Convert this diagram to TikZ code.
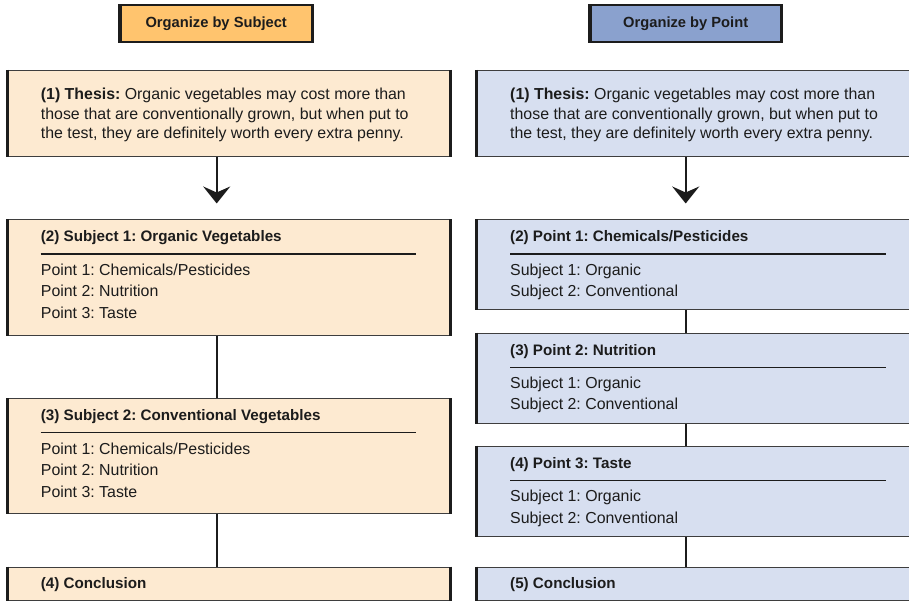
\documentclass[tikz,border=0pt]{standalone}
\usepackage{fontspec}
\setmainfont{Liberation Sans}
\usetikzlibrary{arrows.meta}
\frenchspacing

\definecolor{hdrA}{RGB}{255,196,110}
\definecolor{fillA}{RGB}{253,234,209}
\definecolor{hdrB}{RGB}{138,161,206}
\definecolor{fillB}{RGB}{215,223,240}
\definecolor{ink}{RGB}{28,28,28}

\tikzset{
  panel/.style={draw=ink!85, line width=1.1bp, inner sep=0pt, anchor=north west},
  hdr/.style={draw=ink, line width=2bp, inner sep=0pt,
    font=\fontsize{14.7bp}{17bp}\selectfont\bfseries, text=ink},
  body/.style={inner sep=0pt, anchor=base west, text=ink,
    font=\fontsize{15.9bp}{19bp}\selectfont},
  ttl/.style={body, font=\fontsize{15.2bp}{19bp}\selectfont\bfseries},
  rule/.style={draw=ink, line width=1.1bp},
  link/.style={draw=ink, line width=2bp},
  sideline/.style={draw=ink, line width=2.6bp},
}
% thick vertical edges of a panel
\newcommand\panelsides[1]{%
  \draw[sideline] (#1.north west) -- (#1.south west);
  \draw[sideline] (#1.north east) -- (#1.south east);}

\begin{document}
\begin{tikzpicture}[x=1bp,y=-1bp]
\clip (0,0) rectangle (909,601);

% ---------------- left column: organize by subject ----------------
\node[hdr, fill=hdrA, minimum width=191bp, minimum height=36.4bp] (hA) at (216.2,23.5) {Organize by Subject};
\panelsides{hA}

\node[panel, fill=fillA, minimum width=442bp, minimum height=86bp] (thA) at (7.3,70) {};
\panelsides{thA}
\node[body] (thA1) at (40.7,100) {\textbf{(1) Thesis:} Organic vegetables may cost more than};
\node[body] (thA2) at (40.7,119.5) {those that are conventionally grown, but when put to};
\node[body] (thA3) at (40.7,139) {the test, they are definitely worth every extra penny.};

\node[panel, fill=fillA, minimum width=442bp, minimum height=115.7bp] (sA1) at (7.3,219.3) {};
\panelsides{sA1}
\node[ttl] (sA1t) at (40.7,242) {(2) Subject 1: Organic Vegetables};
\draw[rule] (40.7,254) coordinate (sA1r1) -- (416,254) coordinate (sA1r2);
\node[body] (sA1a) at (40.7,275) {Point 1: Chemicals/Pesticides};
\node[body] (sA1b) at (40.7,296.7) {Point 2: Nutrition};
\node[body] (sA1c) at (40.7,318.3) {Point 3: Taste};

\node[panel, fill=fillA, minimum width=442bp, minimum height=115bp] (sA2) at (7.3,398.3) {};
\panelsides{sA2}
\node[ttl] (sA2t) at (40.7,420) {(3) Subject 2: Conventional Vegetables};
\draw[rule] (40.7,432.7) coordinate (sA2r1) -- (416,432.7) coordinate (sA2r2);
\node[body] (sA2a) at (40.7,454) {Point 1: Chemicals/Pesticides};
\node[body] (sA2b) at (40.7,475.5) {Point 2: Nutrition};
\node[body] (sA2c) at (40.7,497) {Point 3: Taste};

\node[panel, fill=fillA, minimum width=442bp, minimum height=33bp] (cA) at (7.3,566.7) {};
\panelsides{cA}
\node[ttl] (cAt) at (40.7,588.3) {(4) Conclusion};

\coordinate (tipA) at (216.7,203.5);
\draw[link, -{Stealth[length=17bp, width=27bp, inset=6bp]}] (tipA |- thA.south) -- (tipA);
\draw[link] (tipA |- sA1.south) -- (tipA |- sA2.north);
\draw[link] (tipA |- sA2.south) -- (tipA |- cA.north);

% ---------------- right column: organize by point ----------------
\node[hdr, fill=hdrB, minimum width=190bp, minimum height=36.4bp] (hB) at (685.7,23.5) {Organize by Point};
\panelsides{hB}

\node[panel, fill=fillB, minimum width=440bp, minimum height=86bp] (thB) at (476.3,70) {};
\panelsides{thB}
\node[body] (thB1) at (510,100) {\textbf{(1) Thesis:} Organic vegetables may cost more than};
\node[body] (thB2) at (510,119.5) {those that are conventionally grown, but when put to};
\node[body] (thB3) at (510,139) {the test, they are definitely worth every extra penny.};

\node[panel, fill=fillB, minimum width=440bp, minimum height=90bp] (pB1) at (476.3,219.3) {};
\panelsides{pB1}
\node[ttl] (pB1t) at (510,242) {(2) Point 1: Chemicals/Pesticides};
\draw[rule] (510,254) coordinate (pB1r1) -- (885.7,254) coordinate (pB1r2);
\node[body] (pB1a) at (510,275) {Subject 1: Organic};
\node[body] (pB1b) at (510,296.7) {Subject 2: Conventional};

\node[panel, fill=fillB, minimum width=440bp, minimum height=90bp] (pB2) at (476.3,332.7) {};
\panelsides{pB2}
\node[ttl] (pB2t) at (510,355.7) {(3) Point 2: Nutrition};
\draw[rule] (510,367.7) coordinate (pB2r1) -- (885.7,367.7) coordinate (pB2r2);
\node[body] (pB2a) at (510,388.7) {Subject 1: Organic};
\node[body] (pB2b) at (510,409.7) {Subject 2: Conventional};

\node[panel, fill=fillB, minimum width=440bp, minimum height=90.3bp] (pB3) at (476.3,445.7) {};
\panelsides{pB3}
\node[ttl] (pB3t) at (510,468.3) {(4) Point 3: Taste};
\draw[rule] (510,480.7) coordinate (pB3r1) -- (885.7,480.7) coordinate (pB3r2);
\node[body] (pB3a) at (510,501.7) {Subject 1: Organic};
\node[body] (pB3b) at (510,523.3) {Subject 2: Conventional};

\node[panel, fill=fillB, minimum width=440bp, minimum height=33bp] (cB) at (476.3,566.7) {};
\panelsides{cB}
\node[ttl] (cBt) at (510,588.3) {(5) Conclusion};

\coordinate (tipB) at (685.7,203.5);
\draw[link, -{Stealth[length=17bp, width=27bp, inset=6bp]}] (tipB |- thB.south) -- (tipB);
\draw[link] (tipB |- pB1.south) -- (tipB |- pB2.north);
\draw[link] (tipB |- pB2.south) -- (tipB |- pB3.north);
\draw[link] (tipB |- pB3.south) -- (tipB |- cB.north);
\end{tikzpicture}
\end{document}
